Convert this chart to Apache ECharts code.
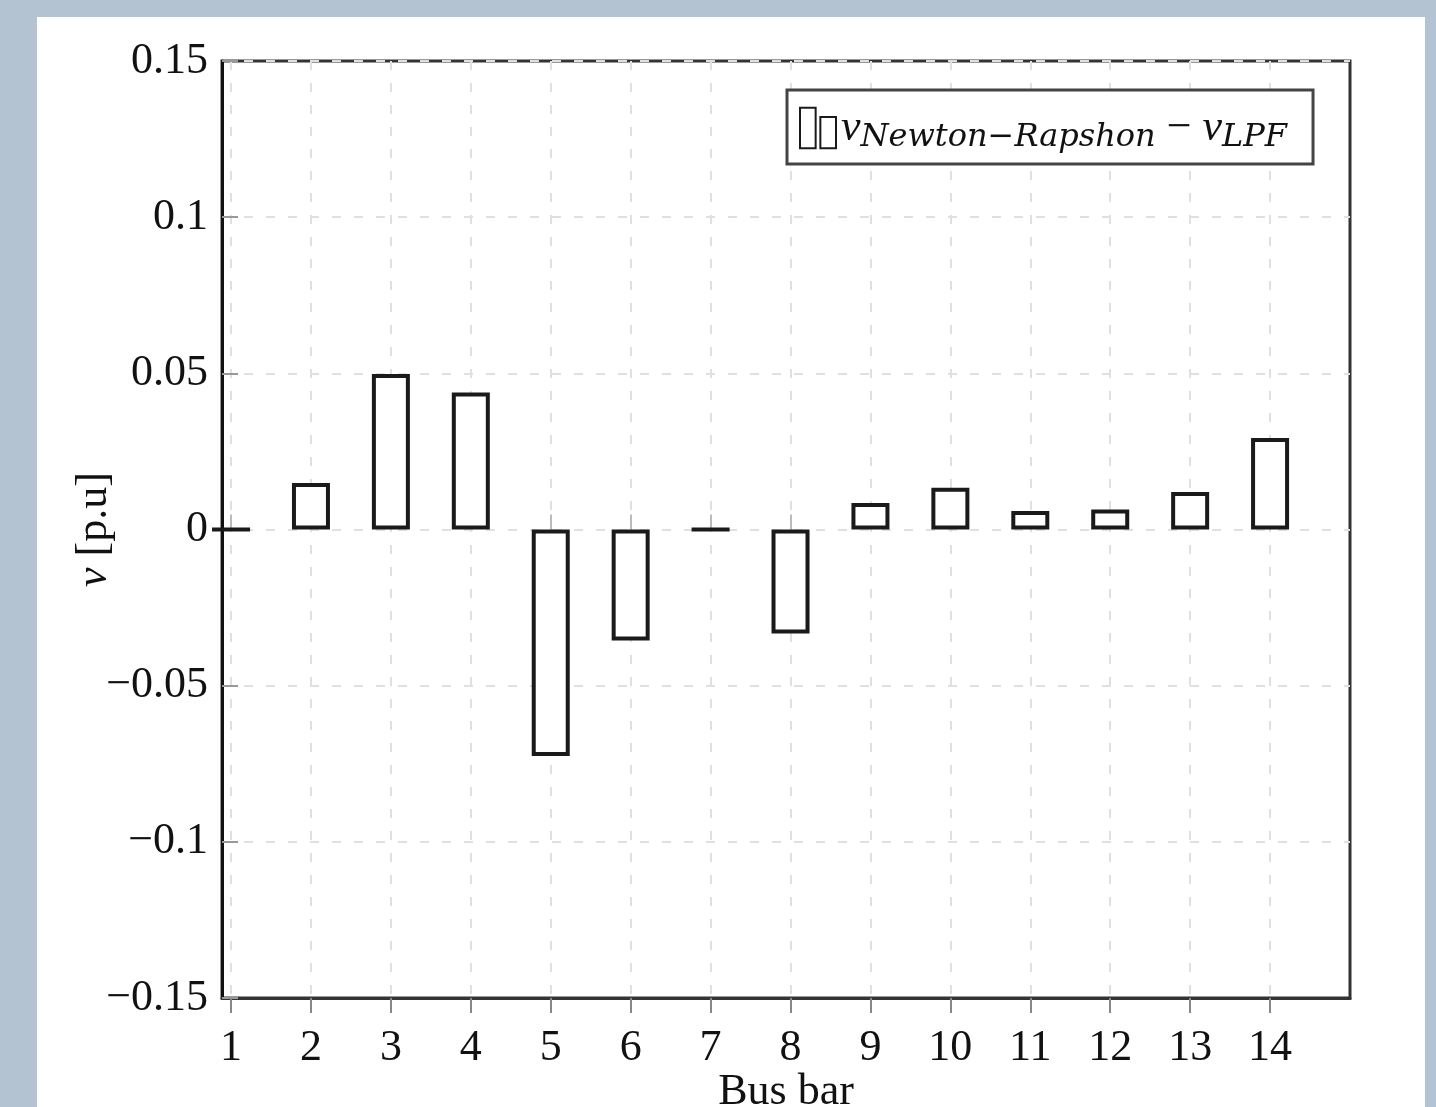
<!DOCTYPE html>
<html>
<head>
<meta charset="utf-8">
<script src="https://cdn.jsdelivr.net/npm/echarts@6/dist/echarts.min.js"></script>
<style>
html,body{margin:0;padding:0;background:#b4c3d2;overflow:hidden;}
#chart{width:1436px;height:1107px;}
</style>
</head>
<body>
<div id="chart"></div>
<script>
// Data
const busBars = [1, 2, 3, 4, 5, 6, 7, 8, 9, 10, 11, 12, 13, 14];
const voltageDiff = [0, 0.0149, 0.0498, 0.0439, -0.0725, -0.0355, 0, -0.0333, 0.0085, 0.0134, 0.0059, 0.0064, 0.012, 0.0293];
const xTickValues = [1, 2, 3, 4, 5, 6, 7, 8, 9, 10, 11, 12, 13, 14];
const yTickValues = [-0.15, -0.1, -0.05, 0, 0.05, 0.1, 0.15];
const seriesName = 'diff';

const FONT = 'Liberation Serif';
const IFONT = 'DejaVu Serif';
const chart = echarts.init(document.getElementById('chart'));

function fmtY(v) {
  const r = Math.round(v * 1000) / 1000;
  if (r === 0) return '0';
  return (r < 0 ? '\u2212' : '') + String(+Math.abs(r).toFixed(3));
}

const gridLine = { show: true, lineStyle: { color: '#e0e0e0', width: 2, type: [9, 13] } };

chart.setOption({
  backgroundColor: '#b4c3d2',
  animation: false,
  graphic: [{
    type: 'rect', z: -10, silent: true,
    shape: { x: 37, y: 17, width: 1388, height: 1100 },
    style: { fill: '#ffffff' }
  }],
  grid: {
    left: 222, right: 86, top: 61, bottom: 109,
    outerBoundsMode: 'none',
    containLabel: false,
    show: true, borderColor: '#333', borderWidth: 3, backgroundColor: 'transparent'
  },
  legend: {
    show: true,
    left: 787, top: 90,
    padding: [12, 26, 10, 12],
    backgroundColor: '#ffffff',
    borderColor: '#444',
    borderWidth: 3,
    borderRadius: 0,
    itemWidth: 36, itemHeight: 42,
    itemGap: 10,
    icon: 'path://M0,0H10V26H0Z M13,6H23V26H13Z',
    data: [seriesName],
    formatter: function () {
      return '{v|v}{sub|Newton\u2212Rapshon}{op| \u2212 }{v|v}{sub|LPF}';
    },
    textStyle: {
      fontFamily: FONT, color: '#111',
      rich: {
        v: { fontFamily: FONT, fontStyle: 'italic', fontSize: 44, lineHeight: 48, verticalAlign: 'middle' },
        sub: { fontFamily: IFONT, fontStyle: 'italic', fontSize: 32, lineHeight: 32, padding: [20, 0, 0, 0], verticalAlign: 'middle' },
        op: { fontFamily: FONT, fontSize: 44, lineHeight: 48, verticalAlign: 'middle' }
      }
    }
  },
  xAxis: [{
    type: 'value',
    min: 0.887, max: 15,
    name: 'Bus bar',
    nameLocation: 'middle',
    nameGap: 72,
    nameMoveOverlap: false,
    nameTextStyle: { fontFamily: FONT, fontSize: 44, color: '#111' },
    axisLine: { show: true, onZero: false, lineStyle: { color: '#333', width: 3 } },
    axisTick: { show: true, inside: false, length: 15, customValues: xTickValues, lineStyle: { color: '#888', width: 2 } },
    axisLabel: { show: true, customValues: xTickValues, margin: 28, fontFamily: FONT, fontSize: 44, color: '#111' },
    splitLine: gridLine
  }, {
    type: 'value',
    position: 'top',
    min: 0.887, max: 15,
    axisLine: { show: false },
    axisTick: { show: true, inside: false, length: 15, customValues: xTickValues, lineStyle: { color: '#bbb', width: 2 } },
    axisLabel: { show: false, customValues: xTickValues },
    splitLine: { show: false }
  }],
  yAxis: {
    type: 'value',
    min: -0.15, max: 0.15, interval: 0.05,
    name: '{i|v} [p.u]',
    nameLocation: 'middle',
    nameRotate: 90,
    nameGap: 106,
    nameMoveOverlap: false,
    nameTextStyle: {
      fontFamily: FONT, fontSize: 44, color: '#111',
      rich: { i: { fontFamily: FONT, fontStyle: 'italic', fontSize: 44, color: '#111' } }
    },
    axisLine: { show: true, lineStyle: { color: '#111', width: 3 } },
    axisTick: { show: true, inside: true, length: 16, lineStyle: { color: '#999', width: 2 } },
    axisLabel: { margin: 14, fontFamily: FONT, fontSize: 44, color: '#111', formatter: fmtY },
    splitLine: gridLine
  },
  series: [{
    name: seriesName,
    type: 'bar',
    xAxisIndex: 0,
    barWidth: 38,
    clip: true,
    itemStyle: { color: '#ffffff', borderColor: '#1a1a1a', borderWidth: 4 },
    data: busBars.map((b, i) => [b, voltageDiff[i]])
  }]
});
</script>
</body>
</html>
